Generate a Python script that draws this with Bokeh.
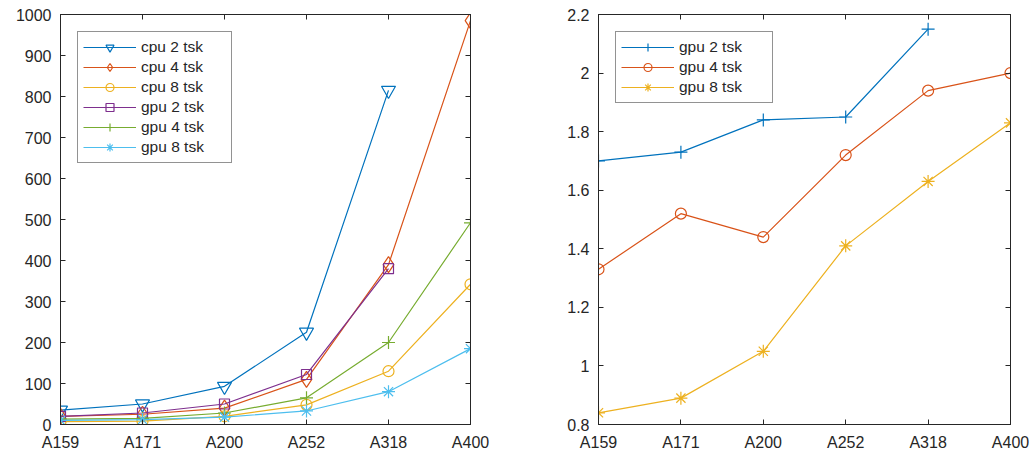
from bokeh.plotting import figure
from bokeh.layouts import row
from bokeh.models import Range1d, FixedTicker, LinearAxis
from bokeh.embed import file_html
from bokeh.resources import INLINE

cats = ["A159", "A171", "A200", "A252", "A318", "A400"]

cpu2 = [35, 50, 93, 225, 815]
cpu4 = [20, 25, 40, 110, 390, 985]
cpu8 = [7, 8, 20, 48, 130, 342]
gpu2 = [20, 28, 50, 122, 380]
gpu4 = [13, 15, 28, 65, 200, 492]
gpu8 = [10, 12, 18, 33, 80, 185]

r_gpu2 = [1.70, 1.73, 1.84, 1.85, 2.15]
r_gpu4 = [1.33, 1.52, 1.44, 1.72, 1.94, 2.00]
r_gpu8 = [0.84, 0.89, 1.05, 1.41, 1.63, 1.83]

left_ticks = [0, 100, 200, 300, 400, 500, 600, 700, 800, 900, 1000]
right_ticks = [0.8, 1.0, 1.2, 1.4, 1.6, 1.8, 2.0, 2.2]
right_labels = ["0.8", "1", "1.2", "1.4", "1.6", "1.8", "2", "2.2"]

C = ["#0072BD", "#D95319", "#EDB120", "#7E2F8E", "#77AC30", "#4DBEEE"]
FONT = "Liberation Sans"
AX = "#262626"
xs = list(range(len(cats)))


def style_axes(p, yticks, ylabels=None):
    bottom = p.below[0]
    left = p.left[0]
    bottom.ticker = FixedTicker(ticks=xs)
    bottom.major_label_overrides = {i: c for i, c in enumerate(cats)}
    left.ticker = FixedTicker(ticks=yticks)
    if ylabels:
        left.major_label_overrides = {t: l for t, l in zip(yticks, ylabels)}
    for ax in (bottom, left):
        ax.major_label_text_font_size = "16px"
        ax.major_label_standoff = 9
        ax.major_label_text_font = FONT
        ax.major_label_text_color = AX
    # extra box axes (tick marks only)
    top = LinearAxis(ticker=FixedTicker(ticks=xs))
    right = LinearAxis(ticker=FixedTicker(ticks=yticks))
    for ax in (top, right):
        ax.major_label_text_color = None
        ax.major_label_text_font_size = "1px"
        ax.major_label_standoff = 0
    p.add_layout(top, "above")
    p.add_layout(right, "right")
    for ax in (bottom, left, top, right):
        ax.major_tick_in = 5
        ax.major_tick_out = 0
        ax.minor_tick_line_color = None
        ax.axis_line_color = AX
        ax.major_tick_line_color = AX
        ax.axis_line_width = 1
    p.xgrid.visible = False
    p.ygrid.visible = False
    p.outline_line_color = AX


def series(p, ys, color, marker, size, label):
    x = xs[:len(ys)]
    p.line(x, ys, line_color=color, line_width=1.2, legend_label=label)
    p.scatter(x, ys, marker=marker, size=size, line_color=color, fill_color=None,
              line_width=1.2, legend_label=label)


p1 = figure(frame_width=410, frame_height=410, min_border_left=60, min_border_right=46,
            min_border_top=14, min_border_bottom=34, x_range=Range1d(0, 5),
            y_range=Range1d(0, 1000), output_backend="svg", toolbar_location=None)
series(p1, cpu2, C[0], "inverted_triangle", 14, "cpu 2 tsk")
series(p1, cpu4, C[1], "diamond", 16, "cpu 4 tsk")
series(p1, cpu8, C[2], "circle", 11, "cpu 8 tsk")
series(p1, gpu2, C[3], "square", 10, "gpu 2 tsk")
series(p1, gpu4, C[4], "cross", 13, "gpu 4 tsk")
series(p1, gpu8, C[5], "asterisk", 13, "gpu 8 tsk")
style_axes(p1, left_ticks)

p2 = figure(frame_width=412, frame_height=410, min_border_left=82, min_border_right=22,
            min_border_top=14, min_border_bottom=34, x_range=Range1d(0, 5),
            y_range=Range1d(0.8, 2.2), output_backend="svg", toolbar_location=None)
series(p2, r_gpu2, C[0], "cross", 13, "gpu 2 tsk")
series(p2, r_gpu4, C[1], "circle", 11, "gpu 4 tsk")
series(p2, r_gpu8, C[2], "asterisk", 13, "gpu 8 tsk")
style_axes(p2, right_ticks, right_labels)

for p, lw in ((p1, 85), (p2, 88)):
    lg = p.legend[0]
    lg.location = "top_left"
    lg.margin = 17
    lg.padding = 5
    lg.spacing = 0
    lg.glyph_width = 53
    lg.glyph_height = 20
    lg.label_height = 20
    lg.label_width = lw
    lg.label_standoff = 5
    lg.label_text_font = FONT
    lg.label_text_font_size = "15.5px"
    lg.label_text_color = AX
    lg.border_line_color = AX
    lg.border_line_width = 1
    lg.background_fill_alpha = 1

layout = row(p1, p2)
open("out.html", "w").write(file_html(layout, INLINE))
